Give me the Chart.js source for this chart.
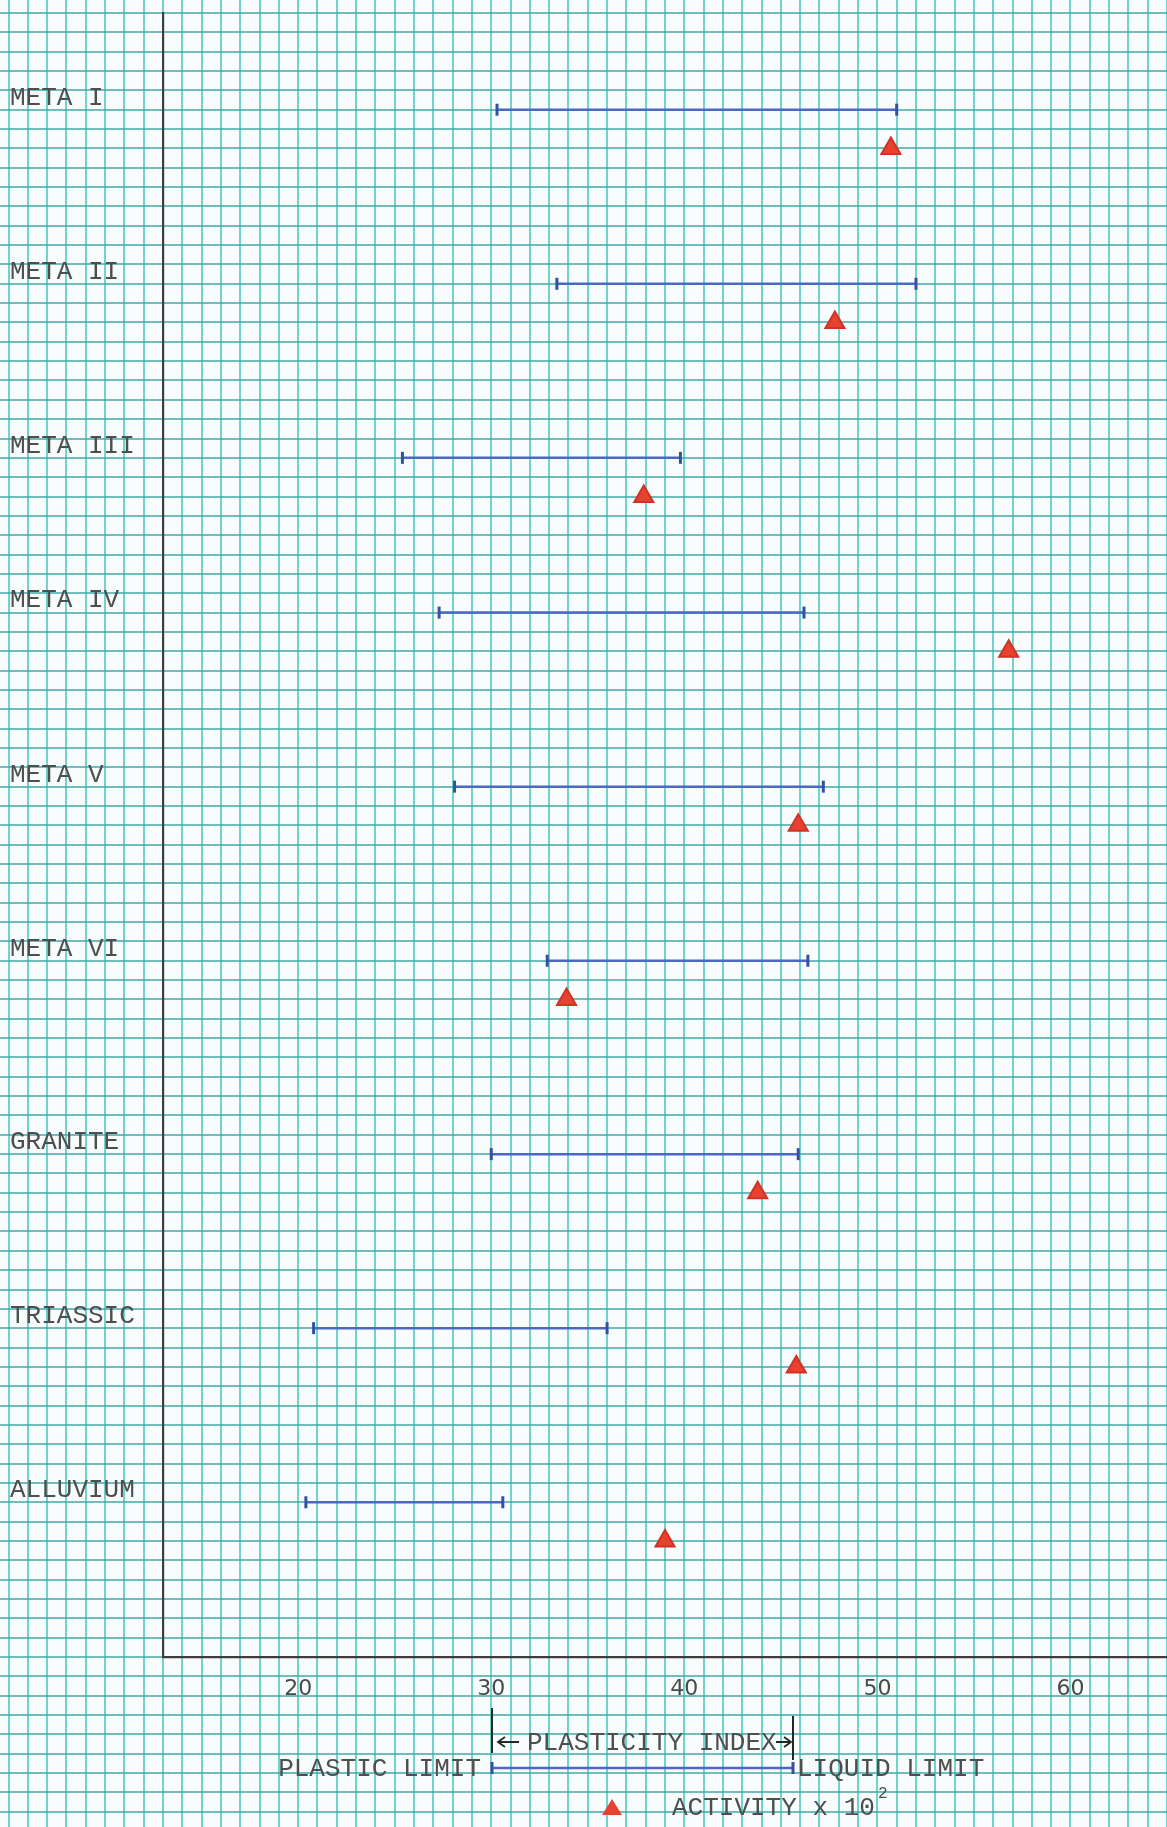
<!DOCTYPE html>
<html>
<head>
<meta charset="utf-8">
<title>Plasticity and activity</title>
<script src="https://cdn.jsdelivr.net/npm/chart.js@4/dist/chart.umd.min.js"></script>
<style>
  html, body { margin: 0; padding: 0; background: #f8fcfc; }
  #wrap { position: relative; width: 1167px; height: 1827px; }
</style>
</head>
<body>
<div id="wrap"><canvas id="chartRanges"></canvas></div>
<script>
// soil / rock groups, top to bottom
const names = [
    "META I", "META II", "META III", "META IV", "META V",
    "META VI", "GRANITE", "TRIASSIC", "ALLUVIUM"
];
// row position of each group on the sheet (grid squares above the x axis)
const rowY = [80, 71, 62, 54, 45, 36, 26, 17, 8];

const plasticLimit = [30.3, 33.4, 25.4, 27.3, 28.1, 32.9, 30.0, 20.8, 20.4];
const liquidLimit  = [51.0, 52.0, 39.8, 46.2, 47.2, 46.4, 45.9, 36.0, 30.6];
const activity     = [50.7, 47.8, 37.9, 56.8, 45.9, 33.9, 43.8, 45.8, 39.0];

const xTicks = [20, 30, 40, 50, 60];

const inkFont = "26px 'Liberation Mono', 'DejaVu Sans Mono', monospace";
const inkColor = "#4e4e4e";
const rangeColor = "#4a68c4";
const capColor = "#34509e";
const triFill = "#e8412f";
const triEdge = "#cf3326";

// graph paper: one square per unit, across the whole sheet
const graphPaper = {
    id: "graphPaper",
    beforeDraw(chart) {
        const ctx = chart.ctx;
        const x = chart.scales.x;
        const y = chart.scales.y;
        const w = chart.width;
        const h = chart.height;
        ctx.save();
        ctx.fillStyle = "#f8fcfc";
        ctx.fillRect(0, 0, w, h);

        ctx.lineWidth = 1.8;
        ctx.strokeStyle = "rgba(40, 190, 178, 0.72)";
        for (let v = Math.ceil(x.getValueForPixel(0)); x.getPixelForValue(v) <= w + 1; v++) {
            const px = Math.round(x.getPixelForValue(v));
            ctx.beginPath();
            ctx.moveTo(px, 0);
            ctx.lineTo(px, h);
            ctx.stroke();
        }
        ctx.strokeStyle = "rgba(60, 165, 168, 0.72)";
        for (let v = Math.floor(y.getValueForPixel(h)); v <= Math.ceil(y.getValueForPixel(0)); v++) {
            const py = Math.round(y.getPixelForValue(v));
            if (py < 0 || py > h) continue;
            ctx.beginPath();
            ctx.moveTo(0, py);
            ctx.lineTo(w, py);
            ctx.stroke();
        }
        ctx.restore();
    }
};

// hand-drawn key under the axis
const keyBox = {
    id: "keyBox",
    afterDraw(chart) {
        const ctx = chart.ctx;
        ctx.save();
        ctx.font = inkFont;
        ctx.fillStyle = inkColor;
        ctx.textBaseline = "middle";

        // marker lines for the plasticity index
        ctx.strokeStyle = "#262626";
        ctx.lineWidth = 2;
        ctx.beginPath();
        ctx.moveTo(492, 1708); ctx.lineTo(492, 1753);
        ctx.moveTo(793, 1716); ctx.lineTo(793, 1760);
        ctx.stroke();

        // arrows
        ctx.lineWidth = 1.8;
        ctx.beginPath();
        ctx.moveTo(519, 1742); ctx.lineTo(498, 1742);
        ctx.moveTo(505, 1737); ctx.lineTo(498, 1742); ctx.lineTo(505, 1747);
        ctx.moveTo(776, 1742); ctx.lineTo(791, 1742);
        ctx.moveTo(784, 1737); ctx.lineTo(791, 1742); ctx.lineTo(784, 1747);
        ctx.stroke();
        ctx.textAlign = "left";
        ctx.fillText("PLASTICITY INDEX", 527, 1743);

        // plastic limit / liquid limit sample
        ctx.strokeStyle = rangeColor;
        ctx.lineWidth = 2.5;
        ctx.beginPath();
        ctx.moveTo(492, 1768); ctx.lineTo(793, 1768);
        ctx.stroke();
        ctx.strokeStyle = capColor;
        ctx.lineWidth = 3;
        ctx.beginPath();
        ctx.moveTo(492, 1762); ctx.lineTo(492, 1774);
        ctx.moveTo(793, 1762); ctx.lineTo(793, 1774);
        ctx.stroke();

        ctx.textAlign = "right";
        ctx.fillText("PLASTIC LIMIT", 481, 1769);
        ctx.textAlign = "left";
        ctx.fillText("LIQUID LIMIT", 797, 1769);

        // activity sample
        ctx.fillStyle = triFill;
        ctx.beginPath();
        ctx.moveTo(612, 1799); ctx.lineTo(622, 1815); ctx.lineTo(602, 1815);
        ctx.closePath();
        ctx.fill();

        ctx.fillStyle = inkColor;
        ctx.fillText("ACTIVITY x 10", 672, 1808);
        ctx.font = "16px 'Liberation Mono', 'DejaVu Sans Mono', monospace";
        ctx.fillText("2", 878, 1794);
        ctx.restore();
    }
};

// one short line per group, from plastic limit to liquid limit
const rangeSets = names.map((name, i) => ({
    label: name,
    data: [
        { x: plasticLimit[i], y: rowY[i] },
        { x: liquidLimit[i], y: rowY[i] }
    ],
    showLine: true,
    borderColor: rangeColor,
    borderWidth: 2.5,
    pointStyle: "line",
    pointRotation: 90,
    pointRadius: 6,
    pointBorderWidth: 3,
    pointBorderColor: capColor
}));

const activitySet = {
    label: "ACTIVITY x 10²",
    data: activity.map((a, i) => ({ x: a, y: rowY[i] - 2 })),
    showLine: false,
    pointStyle: "triangle",
    pointRadius: 11,
    pointBorderWidth: 2,
    backgroundColor: triFill,
    borderColor: triEdge
};

const config = {
    type: "scatter",
    data: { datasets: [...rangeSets, activitySet] },
    options: {
        responsive: true,
        maintainAspectRatio: false,
        animation: false,
        events: [],
        layout: {
            autoPadding: false,
            padding: { left: 10, top: 13, right: 0, bottom: 0 }
        },
        plugins: {
            legend: { display: false },
            tooltip: { enabled: false }
        },
        scales: {
            x: {
                type: "linear",
                min: 13,
                max: 65,
                grid: { display: false, drawTicks: false },
                border: { display: true, color: "#3e3e3e", width: 2.2 },
                afterBuildTicks: (scale) => {
                    scale.ticks = xTicks.map(v => ({ value: v }));
                },
                afterFit: (scale) => {
                    scale.height = 170;
                    scale.paddingLeft = 0;
                    scale.paddingRight = 0;
                },
                ticks: {
                    padding: 19,
                    color: "#4a4a4a",
                    font: { family: "'DejaVu Sans', sans-serif", size: 22, weight: "normal" },
                    maxRotation: 0,
                    autoSkip: false
                }
            },
            y: {
                type: "linear",
                min: 0,
                max: 85,
                grid: { display: false, drawTicks: false },
                border: { display: true, color: "#3e3e3e", width: 2.2 },
                afterBuildTicks: (scale) => {
                    scale.ticks = rowY.map(v => ({ value: v }));
                },
                afterFit: (scale) => {
                    scale.width = 153;
                    scale.paddingTop = 0;
                    scale.paddingBottom = 0;
                },
                ticks: {
                    crossAlign: "far",
                    labelOffset: -12,
                    autoSkip: false,
                    color: inkColor,
                    font: { family: "'Liberation Mono', 'DejaVu Sans Mono', monospace", size: 26 },
                    callback: (value) => names[rowY.indexOf(value)]
                }
            }
        }
    },
    plugins: [graphPaper, keyBox]
};

const chartRanges = new Chart(
    document.getElementById("chartRanges"),
    config
);
</script>
</body>
</html>
